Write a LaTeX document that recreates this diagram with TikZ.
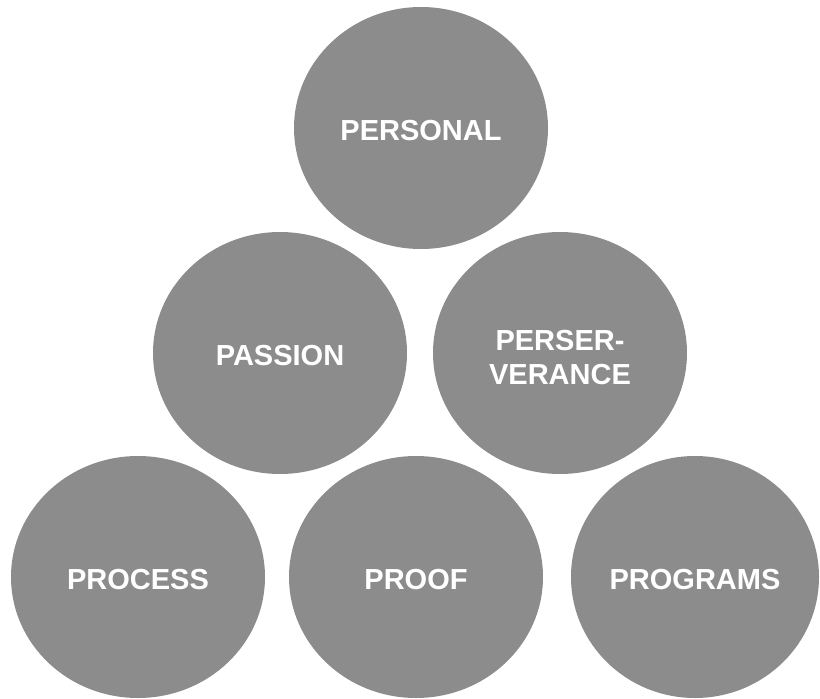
\documentclass[tikz,border=0pt]{standalone}
\usepackage{fontspec}
\setmainfont{Liberation Sans}
\usetikzlibrary{shapes.geometric}
\definecolor{discgray}{HTML}{8C8C8C}
\tikzset{
  disc/.style={ellipse, fill=discgray, draw=none, inner sep=0pt,
    minimum width=254pt, minimum height=242pt},
  disclabel/.style={text=white, align=center, inner sep=0pt, yshift=-3pt,
    font=\fontsize{29}{34}\selectfont\bfseries}
}
\begin{document}
\begin{tikzpicture}[x=1pt,y=-1pt]
  \useasboundingbox (0,0) rectangle (820,699);
  % top row
  \node[disc] (personal) at (421,128) {};
  % middle row
  \node[disc] (passion) at (280,353) {};
  \node[disc] (perseverance) at (560,353) {};
  % bottom row
  \node[disc] (process) at (138,577) {};
  \node[disc] (proof) at (416,577) {};
  \node[disc, minimum width=248pt] (programs) at (695,577) {};
  % captions
  \node[disclabel] (personal-t) at (personal.center) {PERSONAL};
  \node[disclabel] (passion-t) at (passion.center) {PASSION};
  \node[disclabel, yshift=-2pt] (perseverance-t) at (perseverance.center) {PERSER-\\VERANCE};
  \node[disclabel] (process-t) at (process.center) {PROCESS};
  \node[disclabel] (proof-t) at (proof.center) {PROOF};
  \node[disclabel] (programs-t) at (programs.center) {PROGRAMS};
\end{tikzpicture}
\end{document}
